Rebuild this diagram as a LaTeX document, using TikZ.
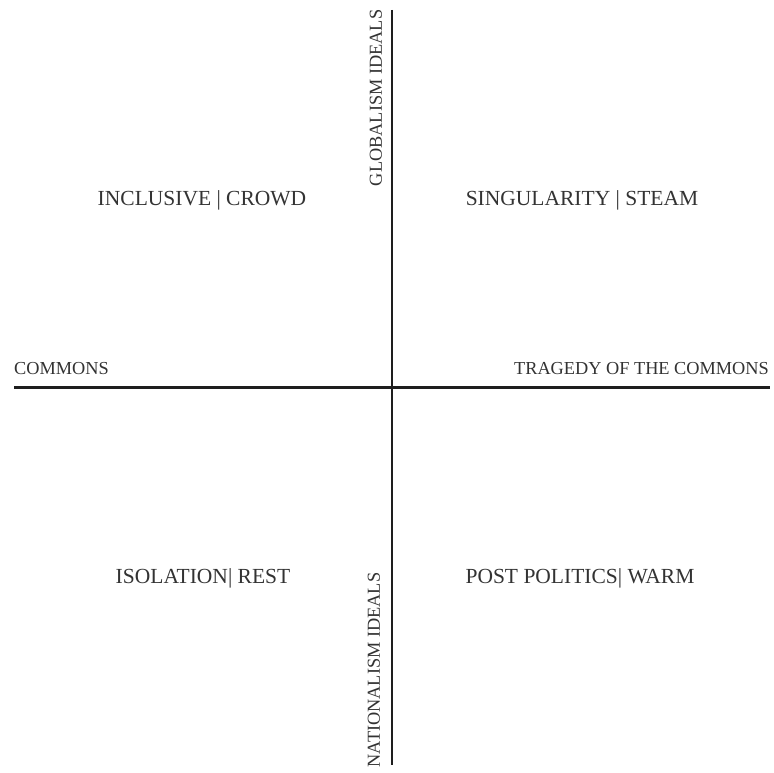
\documentclass[tikz,border=0pt]{standalone}
\usepackage{fontspec}
\setmainfont{Liberation Serif}
\definecolor{txt}{HTML}{333333}
\definecolor{axis}{HTML}{1E1E1E}
\begin{document}
\begin{tikzpicture}[x=1pt,y=-1pt,
  lbl/.style={text=txt,font=\fontsize{18.3}{21}\selectfont,inner sep=0pt},
  qlbl/.style={text=txt,font=\fontsize{21.5}{24}\selectfont,inner sep=0pt},
  axisline/.style={draw=axis,line width=2.6pt}]
\useasboundingbox (0,0) rectangle (774,773);
\coordinate (top) at (392,10);
\coordinate (bot) at (392,765);
\coordinate (left) at (14,387.5);
\coordinate (right) at (770,387.5);
\draw[axisline] (top) -- (bot);
\draw[axisline] (left) -- (right);
\node[lbl,rotate=90] (glob) at (376,98) {GLOBALISM IDEALS};
\node[lbl,rotate=90] (nat) at (374,670) {NATIONALISM IDEALS};
\node[lbl,anchor=west] (com) at (14,369) {COMMONS};
\node[lbl,anchor=east] (trag) at (769,369) {TRAGEDY OF THE COMMONS};
\node[qlbl] (q1) at (202,200) {INCLUSIVE | CROWD};
\node[qlbl] (q2) at (582,200) {SINGULARITY | STEAM};
\node[qlbl] (q3) at (203,578) {ISOLATION| REST};
\node[qlbl] (q4) at (580,578) {POST POLITICS| WARM};
\end{tikzpicture}
\end{document}
